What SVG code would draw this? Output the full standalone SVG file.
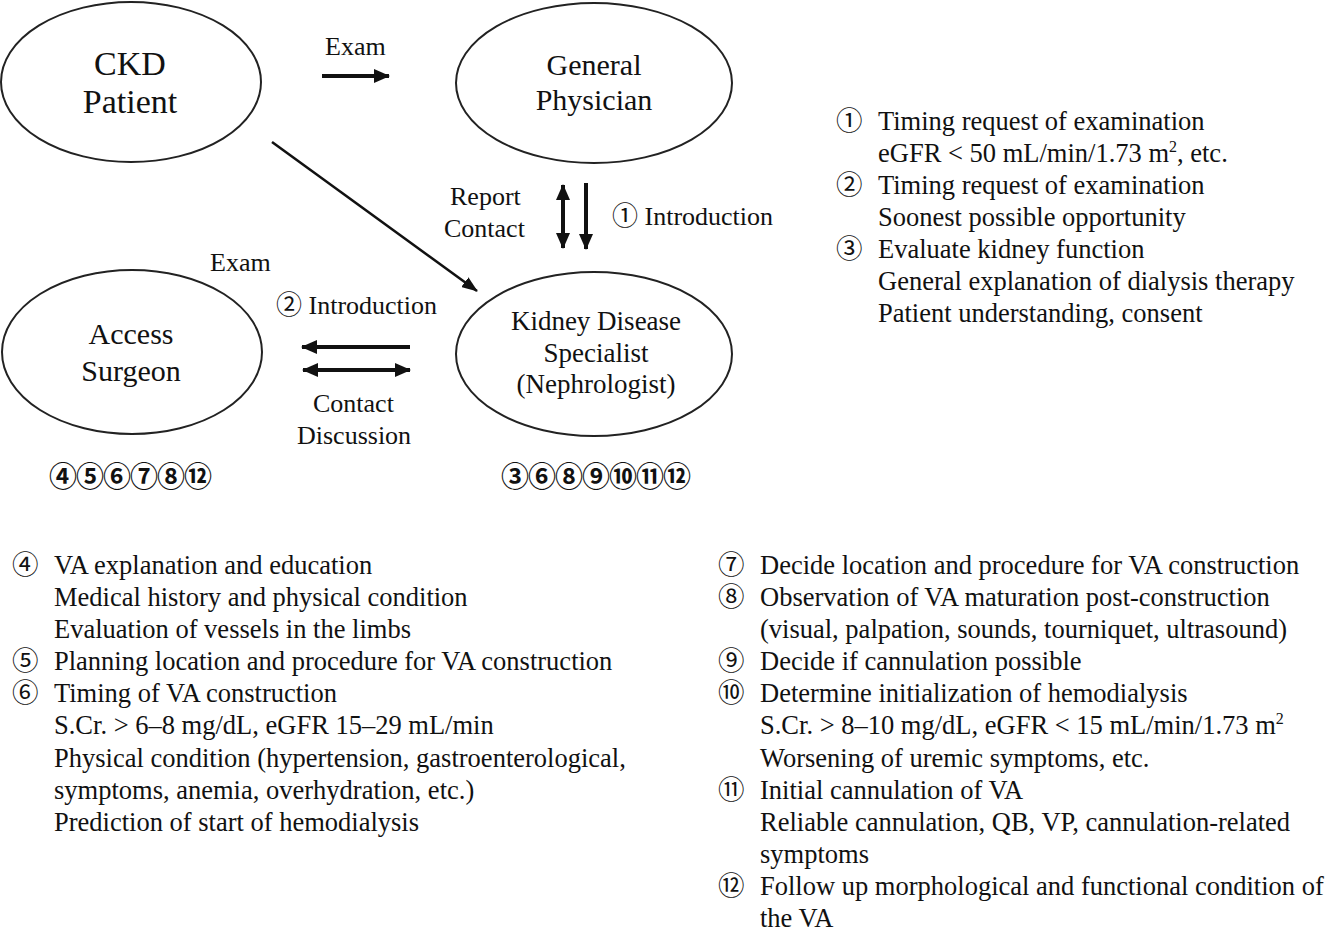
<svg xmlns="http://www.w3.org/2000/svg" width="1334" height="936" viewBox="0 0 1334 936">
<style>
text{font-family:"Liberation Serif","Noto Sans CJK JP","DejaVu Sans",serif;fill:#111}
.node{fill:#fff;stroke:#222;stroke-width:2}
.big{font-size:34px;text-anchor:middle}
.mid{font-size:30px;text-anchor:middle}
.ks{font-size:27px;text-anchor:middle}
.lbl{font-size:26px}
.lst{font-size:26.5px}
.num{font-size:28px;font-weight:bold;letter-spacing:-1px}
.thick{stroke:#111;stroke-width:4;fill:none}
.thin{stroke:#111;stroke-width:2.5;fill:none}
</style>
<defs>
<marker id="ah" markerUnits="userSpaceOnUse" viewBox="0 0 16 14" refX="15" refY="7" markerWidth="16" markerHeight="14" orient="auto-start-reverse">
<path d="M0,0 L16,7 L0,14 Z" fill="#111"/>
</marker>
<marker id="ahs" markerUnits="userSpaceOnUse" viewBox="0 0 16 12" refX="15" refY="6" markerWidth="16" markerHeight="12" orient="auto">
<path d="M0,0 L16,6 L0,12 Z" fill="#111"/>
</marker>
</defs>
<rect width="1334" height="936" fill="#fff"/>

<g id="ckd-patient">
<ellipse class="node" cx="131" cy="82" rx="130" ry="80"/>
<text class="big" x="130" y="75">CKD</text>
<text class="big" x="130" y="113">Patient</text>
</g>
<g id="general-physician">
<ellipse class="node" cx="594" cy="83" rx="138" ry="80"/>
<text class="mid" x="594" y="75">General</text>
<text class="mid" x="594" y="110">Physician</text>
</g>
<g id="access-surgeon">
<ellipse class="node" cx="132" cy="352" rx="130" ry="82"/>
<text class="mid" x="131" y="344">Access</text>
<text class="mid" x="131" y="381">Surgeon</text>
</g>
<g id="kidney-specialist">
<ellipse class="node" cx="594" cy="354" rx="138" ry="82"/>
<text class="ks" x="596" y="330">Kidney Disease</text>
<text class="ks" x="596" y="362">Specialist</text>
<text class="ks" x="596" y="393">(Nephrologist)</text>
</g>

<g id="connectors">
<line class="thick" x1="322" y1="76" x2="389" y2="76" marker-end="url(#ah)"/>
<line class="thin" x1="272" y1="142" x2="477" y2="291" marker-end="url(#ahs)"/>
<line class="thick" x1="563" y1="185" x2="563" y2="248" marker-start="url(#ah)" marker-end="url(#ah)"/>
<line class="thick" x1="586" y1="183" x2="586" y2="249" marker-end="url(#ah)"/>
<line class="thick" x1="410" y1="347" x2="302" y2="347" marker-end="url(#ah)"/>
<line class="thick" x1="303" y1="370" x2="410" y2="370" marker-start="url(#ah)" marker-end="url(#ah)"/>
</g>

<g id="connector-labels">
<text class="lbl" x="325" y="55">Exam</text>
<text class="lbl" x="450" y="205">Report</text>
<text class="lbl" x="444" y="237">Contact</text>
<text class="lbl" x="612" y="225">① Introduction</text>
<text class="lbl" x="210" y="271">Exam</text>
<text class="lbl" x="276" y="314">② Introduction</text>
<text class="lbl" x="313" y="412">Contact</text>
<text class="lbl" x="297" y="444">Discussion</text>
</g>

<g id="role-numbers">
<text class="num" x="49" y="487">④⑤⑥⑦⑧⑫</text>
<text class="num" x="501" y="487">③⑥⑧⑨⑩⑪⑫</text>
</g>

<g id="list-1-3">
<text class="lst" x="836" y="130">①</text>
<text class="lst" x="878" y="130">Timing request of examination</text>
<text class="lst" x="878" y="162">eGFR &lt; 50 mL/min/1.73 m<tspan font-size="16" dy="-10">2</tspan><tspan dy="10">, etc.</tspan></text>
<text class="lst" x="836" y="194">②</text>
<text class="lst" x="878" y="194">Timing request of examination</text>
<text class="lst" x="878" y="226">Soonest possible opportunity</text>
<text class="lst" x="836" y="258">③</text>
<text class="lst" x="878" y="258">Evaluate kidney function</text>
<text class="lst" x="878" y="290">General explanation of dialysis therapy</text>
<text class="lst" x="878" y="322">Patient understanding, consent</text>
</g>

<g id="list-left">
<text class="lst" x="12" y="574">④</text>
<text class="lst" x="54" y="574">VA explanation and education</text>
<text class="lst" x="54" y="606">Medical history and physical condition</text>
<text class="lst" x="54" y="638">Evaluation of vessels in the limbs</text>
<text class="lst" x="12" y="670">⑤</text>
<text class="lst" x="54" y="670">Planning location and procedure for VA construction</text>
<text class="lst" x="12" y="702">⑥</text>
<text class="lst" x="54" y="702">Timing of VA construction</text>
<text class="lst" x="54" y="734">S.Cr. &gt; 6–8 mg/dL, eGFR 15–29 mL/min</text>
<text class="lst" x="54" y="767">Physical condition (hypertension, gastroenterological,</text>
<text class="lst" x="54" y="799">symptoms, anemia, overhydration, etc.)</text>
<text class="lst" x="54" y="831">Prediction of start of hemodialysis</text>
</g>

<g id="list-right">
<text class="lst" x="718" y="574">⑦</text>
<text class="lst" x="760" y="574">Decide location and procedure for VA construction</text>
<text class="lst" x="718" y="606">⑧</text>
<text class="lst" x="760" y="606">Observation of VA maturation post-construction</text>
<text class="lst" x="760" y="638">(visual, palpation, sounds, tourniquet, ultrasound)</text>
<text class="lst" x="718" y="670">⑨</text>
<text class="lst" x="760" y="670">Decide if cannulation possible</text>
<text class="lst" x="718" y="702">⑩</text>
<text class="lst" x="760" y="702">Determine initialization of hemodialysis</text>
<text class="lst" x="760" y="734">S.Cr. &gt; 8–10 mg/dL, eGFR &lt; 15 mL/min/1.73 m<tspan font-size="16" dy="-10">2</tspan></text>
<text class="lst" x="760" y="767">Worsening of uremic symptoms, etc.</text>
<text class="lst" x="718" y="799">⑪</text>
<text class="lst" x="760" y="799">Initial cannulation of VA</text>
<text class="lst" x="760" y="831">Reliable cannulation, QB, VP, cannulation-related</text>
<text class="lst" x="760" y="863">symptoms</text>
<text class="lst" x="718" y="895">⑫</text>
<text class="lst" x="760" y="895">Follow up morphological and functional condition of</text>
<text class="lst" x="760" y="927">the VA</text>
</g>
</svg>
